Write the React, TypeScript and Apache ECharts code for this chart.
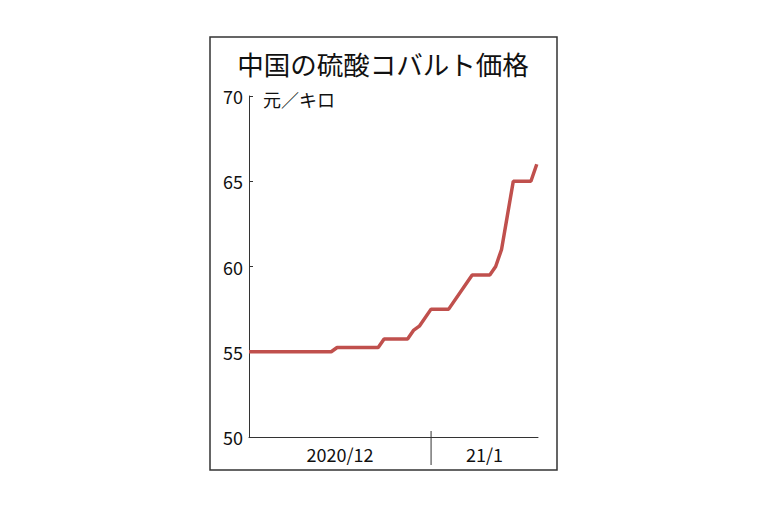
import React, { useEffect, useRef } from "react";
import * as echarts from "echarts";

const titleText = "中国の硫酸コバルト価格";
const unitText = "元／キロ";
const dates = [
  "2020-12-01", "2020-12-15", "2020-12-16", "2020-12-23", "2020-12-24",
  "2020-12-28", "2020-12-29", "2020-12-30", "2021-01-01", "2021-01-04",
  "2021-01-08", "2021-01-11", "2021-01-12", "2021-01-13", "2021-01-15",
  "2021-01-18", "2021-01-19",
];
const prices = [55, 55, 55.25, 55.25, 55.75, 55.75, 56.25, 56.5, 57.5, 57.5, 59.5, 59.5, 60, 61, 65, 65, 66];
const xMin = "2020-12-01 00:00";
const xMax = "2021-01-19 05:00";
const monthStart = "2021-01-01 00:00";
const monthLabels = ["2020/12", "21/1"];
const yMin = 50;
const yMax = 70;
const yStep = 5;

const FONT = "'Noto Sans CJK JP', 'Noto Sans', sans-serif";

export default function App() {
  const ref = useRef<HTMLDivElement>(null);
  useEffect(() => {
    if (!ref.current) return;
    const chart = echarts.init(ref.current, null, { renderer: "svg" });
    const option: any = {
      animation: false,
      backgroundColor: "#ffffff",
      grid: { left: 249, right: 230, top: 96, bottom: 75, containLabel: false },
      xAxis: {
        type: "time",
        min: xMin,
        max: xMax,
        axisLine: { show: true, lineStyle: { color: "#333", width: 1 } },
        axisTick: { show: false },
        axisLabel: { show: false },
        splitLine: { show: false },
      },
      yAxis: {
        type: "value",
        min: yMin,
        max: yMax,
        interval: yStep,
        axisLine: { show: true, lineStyle: { color: "#333", width: 1 } },
        axisTick: { show: true, inside: true, length: 4, lineStyle: { color: "#333" } },
        axisLabel: { color: "#111", fontSize: 18, fontFamily: FONT, margin: 6 },
        splitLine: { show: false },
      },
      series: [
        {
          type: "line",
          data: dates.map((d, i) => [d, prices[i]]),
          showSymbol: false,
          symbol: "none",
          lineStyle: { color: "#c0504d", width: 3.5 },
          itemStyle: { color: "#c0504d" },
        },
      ],
      graphic: [],
    };
    chart.setOption(option);

    const p0 = chart.convertToPixel({ gridIndex: 0 }, [xMin, yMin]) as number[];
    const p1 = chart.convertToPixel({ gridIndex: 0 }, [monthStart, yMin]) as number[];
    const p2 = chart.convertToPixel({ gridIndex: 0 }, [xMax, yMin]) as number[];
    const pTop = chart.convertToPixel({ gridIndex: 0 }, [xMin, yMax]) as number[];

    chart.setOption({
      graphic: [
        {
          type: "rect",
          shape: { x: 210, y: 37, width: 347, height: 433 },
          style: { fill: "none", stroke: "#333", lineWidth: 1.5 },
          silent: true,
        },
        {
          type: "text",
          x: 383,
          y: 63,
          style: {
            text: titleText,
            fontSize: 26.5,
            fontFamily: FONT,
            fill: "#111",
            align: "center",
            verticalAlign: "middle",
          },
        },
        {
          type: "text",
          x: p0[0] + 14,
          y: pTop[1] + 3,
          style: {
            text: unitText,
            fontSize: 18,
            fontFamily: FONT,
            fill: "#111",
            align: "left",
            verticalAlign: "middle",
          },
        },
        {
          type: "line",
          shape: { x1: p1[0], y1: p1[1] - 6, x2: p1[0], y2: p1[1] + 28 },
          style: { stroke: "#333", lineWidth: 1 },
        },
        {
          type: "text",
          x: (p0[0] + p1[0]) / 2,
          y: p0[1] + 17,
          style: {
            text: monthLabels[0],
            fontSize: 18,
            fontFamily: FONT,
            fill: "#111",
            align: "center",
            verticalAlign: "middle",
          },
        },
        {
          type: "text",
          x: (p1[0] + p2[0]) / 2,
          y: p0[1] + 17,
          style: {
            text: monthLabels[1],
            fontSize: 18,
            fontFamily: FONT,
            fill: "#111",
            align: "center",
            verticalAlign: "middle",
          },
        },
      ],
    });

    return () => chart.dispose();
  }, []);
  return (
    <div
      ref={ref}
      style={{ position: "fixed", left: 0, top: 0, width: 768, height: 512, background: "#fff" }}
    />
  );
}
